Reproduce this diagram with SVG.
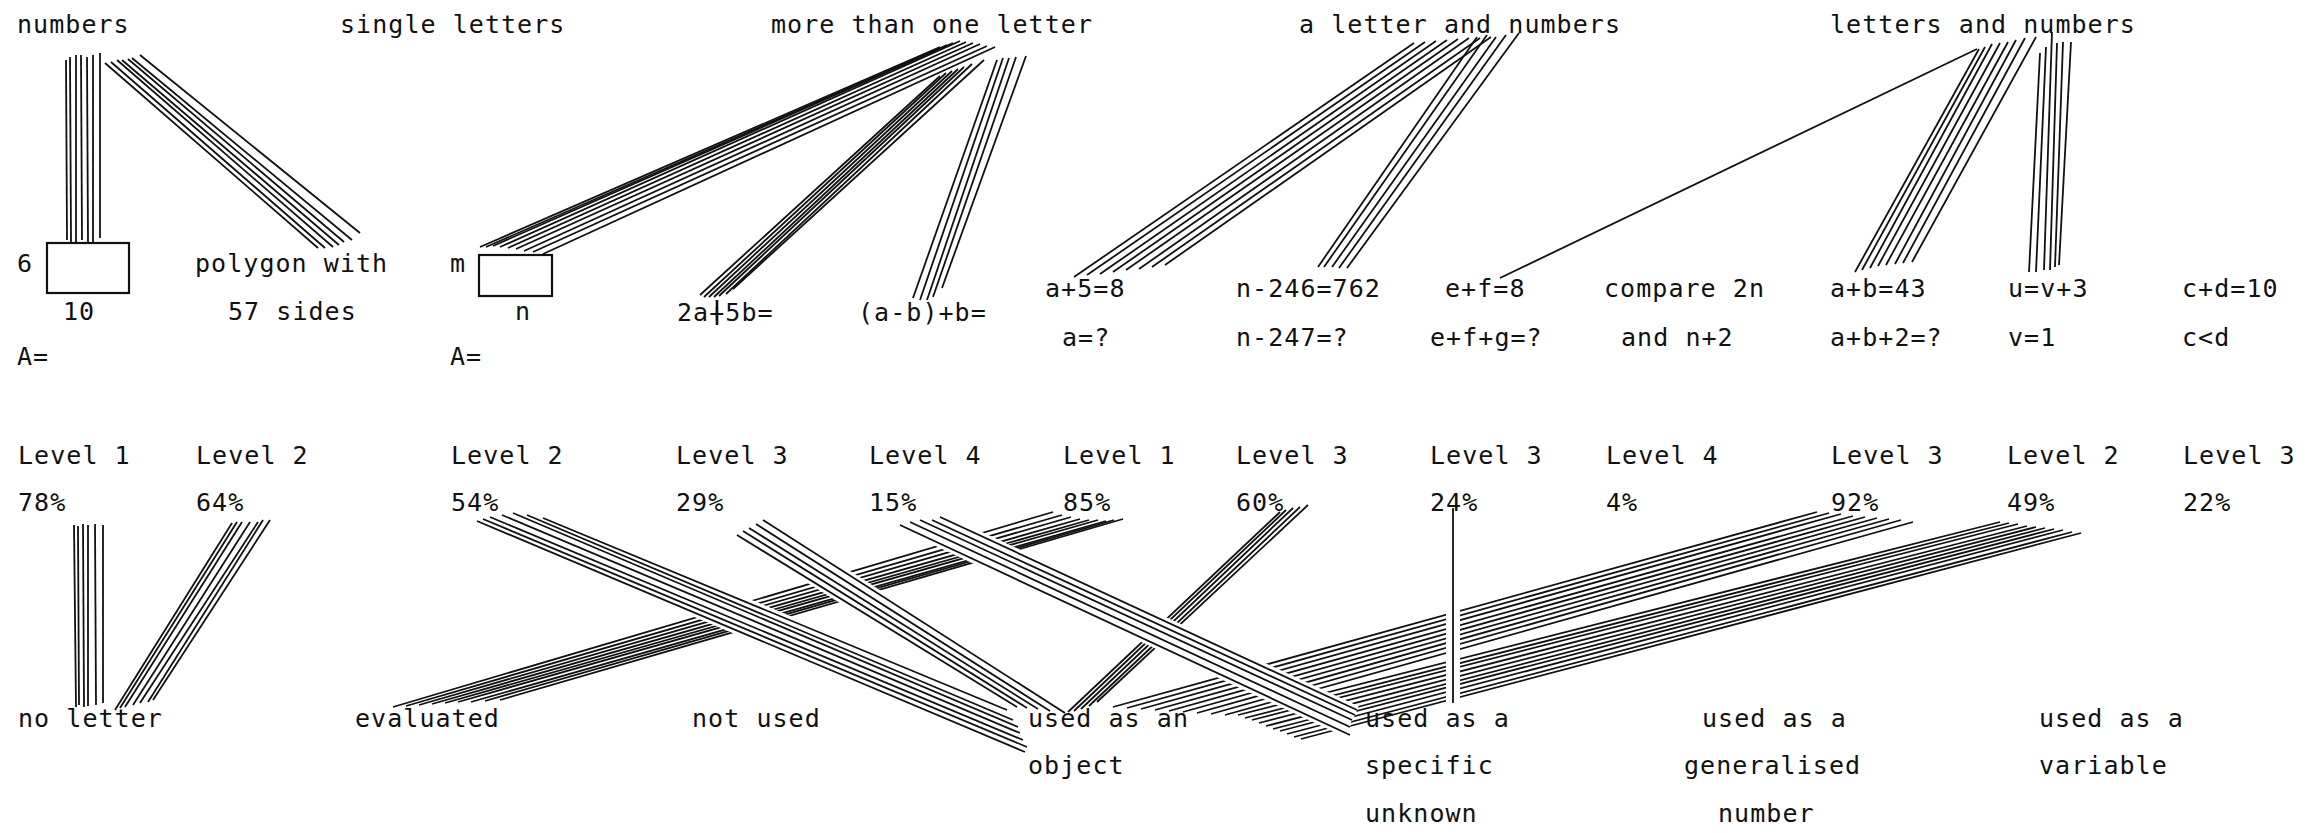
<svg xmlns="http://www.w3.org/2000/svg" width="2313" height="833" viewBox="0 0 2313 833">
<style>
  text { font-family: "DejaVu Sans Mono", "Liberation Mono", monospace; font-size: 25px; letter-spacing: 1.05px; fill: #111; }
  .ln { stroke: #111; stroke-width: 1.8; fill: none; stroke-linecap: butt; }
  .halo { stroke: #fff; stroke-width: 8; fill: none; stroke-linecap: butt; }
  .halo-w { stroke: #fff; stroke-width: 14; fill: none; }
  .box { stroke: #111; stroke-width: 2.2; fill: none; }
</style>
<rect width="2313" height="833" fill="#fff"/>
<g id="connectors">
  <g id="c-numbers-rect" class="ln">
    <line x1="66" y1="60" x2="67" y2="240"/><line x1="70" y1="57" x2="71" y2="242"/><line x1="76" y1="55" x2="76" y2="242"/>
    <line x1="81" y1="55" x2="82" y2="240"/><line x1="87" y1="57" x2="88" y2="242"/><line x1="93" y1="55" x2="93" y2="242"/>
    <line x1="100" y1="53" x2="100" y2="238"/>
  </g>
  <g id="c-numbers-polygon" class="ln">
    <line x1="105" y1="63" x2="318" y2="248"/><line x1="111" y1="62" x2="325" y2="248"/><line x1="117" y1="60" x2="333" y2="247"/>
    <line x1="122" y1="60" x2="339" y2="245"/><line x1="128" y1="59" x2="344" y2="242"/><line x1="132" y1="58" x2="352" y2="240"/>
    <line x1="140" y1="55" x2="360" y2="233"/>
  </g>
  <g id="c-more-rect" class="ln">
    <line x1="940" y1="47" x2="480" y2="247"/><line x1="947" y1="45" x2="486" y2="247"/><line x1="953" y1="43" x2="493" y2="246"/>
    <line x1="960" y1="41" x2="500" y2="247"/><line x1="966" y1="42" x2="508" y2="248"/><line x1="973" y1="43" x2="516" y2="249"/>
    <line x1="980" y1="44" x2="524" y2="251"/><line x1="987" y1="46" x2="533" y2="252"/><line x1="995" y1="47" x2="543" y2="254"/>
  </g>
  <g id="c-more-2a5b" class="ln">
    <line x1="940" y1="76" x2="700" y2="295"/><line x1="946" y1="73" x2="704" y2="297"/><line x1="952" y1="71" x2="709" y2="297"/>
    <line x1="958" y1="69" x2="714" y2="297"/><line x1="964" y1="67" x2="719" y2="296"/><line x1="972" y1="64" x2="726" y2="294"/>
    <line x1="984" y1="60" x2="733" y2="289"/>
    <line x1="717" y1="300" x2="717" y2="325" stroke-width="2.6"/>
  </g>
  <g id="c-more-ab" class="ln">
    <line x1="997" y1="60" x2="913" y2="298"/><line x1="1003" y1="58" x2="920" y2="300"/><line x1="1009" y1="58" x2="927" y2="300"/>
    <line x1="1016" y1="57" x2="933" y2="297"/><line x1="1026" y1="56" x2="942" y2="288"/>
  </g>
  <g id="c-aln-a5" class="ln">
    <line x1="1414" y1="43" x2="1074" y2="277"/><line x1="1425" y1="42" x2="1087" y2="275"/><line x1="1436" y1="41" x2="1100" y2="274"/>
    <line x1="1447" y1="40" x2="1113" y2="272"/><line x1="1458" y1="39" x2="1126" y2="270"/><line x1="1469" y1="38" x2="1139" y2="269"/>
    <line x1="1480" y1="38" x2="1152" y2="267"/><line x1="1491" y1="37" x2="1165" y2="265"/>
  </g>
  <g id="c-aln-n246" class="ln">
    <line x1="1477" y1="37" x2="1318" y2="267"/><line x1="1487" y1="35" x2="1324" y2="267"/><line x1="1496" y1="37" x2="1332" y2="267"/>
    <line x1="1506" y1="35" x2="1339" y2="268"/><line x1="1519" y1="33" x2="1347" y2="268"/>
  </g>
  <g id="c-lan-ef" class="ln">
    <line x1="1977" y1="49" x2="1500" y2="278"/>
  </g>
  <g id="c-lan-ab43" class="ln">
    <line x1="1979" y1="49" x2="1855" y2="272"/><line x1="1985" y1="47" x2="1862" y2="270"/><line x1="1992" y1="44" x2="1870" y2="268"/>
    <line x1="2000" y1="43" x2="1878" y2="266"/><line x1="2008" y1="42" x2="1886" y2="265"/><line x1="2016" y1="40" x2="1895" y2="264"/>
    <line x1="2025" y1="38" x2="1903" y2="263"/><line x1="2036" y1="37" x2="1912" y2="262"/>
  </g>
  <g id="c-lan-uv3" class="ln">
    <line x1="2040" y1="53" x2="2029" y2="272"/><line x1="2046" y1="47" x2="2036" y2="272"/><line x1="2052" y1="32" x2="2044" y2="270"/>
    <line x1="2057" y1="43" x2="2050" y2="270"/><line x1="2063" y1="42" x2="2055" y2="267"/><line x1="2071" y1="42" x2="2059" y2="265"/>
  </g>
  <g id="c-78-noletter" class="ln">
    <line x1="74" y1="525" x2="76" y2="707"/><line x1="78" y1="526" x2="79" y2="705"/><line x1="83" y1="524" x2="84" y2="707"/>
    <line x1="88" y1="525" x2="88" y2="706"/><line x1="95" y1="524" x2="96" y2="705"/><line x1="103" y1="525" x2="103" y2="703"/>
  </g>
  <g id="c-64-noletter" class="ln">
    <line x1="232" y1="523" x2="115" y2="710"/><line x1="237" y1="522" x2="120" y2="708"/><line x1="242" y1="522" x2="125" y2="707"/>
    <line x1="250" y1="522" x2="133" y2="705"/><line x1="258" y1="522" x2="140" y2="703"/><line x1="263" y1="520" x2="148" y2="702"/>
    <line x1="270" y1="520" x2="153" y2="700"/>
  </g>
  <g id="c-85-evaluated" class="ln">
    <line x1="1053" y1="512" x2="393" y2="707"/><line x1="1062" y1="515" x2="406" y2="706"/><line x1="1071" y1="517" x2="419" y2="705"/>
    <line x1="1080" y1="519" x2="432" y2="704"/><line x1="1089" y1="520" x2="445" y2="703"/><line x1="1098" y1="520" x2="458" y2="702"/>
    <line x1="1106" y1="521" x2="471" y2="702"/><line x1="1114" y1="520" x2="485" y2="701"/><line x1="1123" y1="519" x2="500" y2="700"/>
  </g>
  <g id="c-60-object" class="ln">
    <line x1="1280" y1="512" x2="1068" y2="712"/><line x1="1286" y1="510" x2="1074" y2="711"/><line x1="1293" y1="508" x2="1081" y2="709"/>
    <line x1="1300" y1="507" x2="1089" y2="706"/><line x1="1308" y1="505" x2="1097" y2="702"/>
  </g>
  <g id="c-92-object" class="ln">
    <line x1="1817" y1="512" x2="1113" y2="707"/><line x1="1829" y1="513" x2="1127" y2="708"/><line x1="1841" y1="514" x2="1141" y2="709"/>
    <line x1="1853" y1="516" x2="1155" y2="710"/><line x1="1865" y1="517" x2="1169" y2="711"/><line x1="1877" y1="518" x2="1183" y2="712"/>
    <line x1="1889" y1="519" x2="1197" y2="713"/><line x1="1901" y1="520" x2="1211" y2="714"/><line x1="1913" y1="522" x2="1225" y2="715"/>
  </g>
  <g id="c-49-object" class="ln">
    <line x1="2000" y1="522" x2="1238" y2="715"/><line x1="2009" y1="523" x2="1245" y2="718"/><line x1="2018" y1="524" x2="1252" y2="720"/>
    <line x1="2027" y1="526" x2="1259" y2="723"/><line x1="2036" y1="527" x2="1266" y2="726"/><line x1="2045" y1="528" x2="1273" y2="729"/>
    <line x1="2054" y1="529" x2="1280" y2="731"/><line x1="2063" y1="530" x2="1287" y2="734"/><line x1="2072" y1="532" x2="1294" y2="737"/>
    <line x1="2081" y1="533" x2="1301" y2="739"/>
  </g>
  <g id="c-24-specific">
    <line class="halo-w" x1="1453" y1="512" x2="1453" y2="703"/>
    <line class="ln" x1="1453" y1="508" x2="1453" y2="703"/>
  </g>
  <g id="c-54-object">
    <g class="halo">
      <line x1="543" y1="518" x2="1007" y2="710"/><line x1="527" y1="515" x2="1013" y2="720"/><line x1="513" y1="513" x2="1018" y2="727"/>
      <line x1="502" y1="515" x2="1020" y2="733"/><line x1="490" y1="517" x2="1023" y2="740"/><line x1="483" y1="519" x2="1027" y2="747"/>
      <line x1="477" y1="521" x2="1025" y2="752"/>
    </g>
    <g class="ln">
      <line x1="543" y1="518" x2="1007" y2="710"/><line x1="527" y1="515" x2="1013" y2="720"/><line x1="513" y1="513" x2="1018" y2="727"/>
      <line x1="502" y1="515" x2="1020" y2="733"/><line x1="490" y1="517" x2="1023" y2="740"/><line x1="483" y1="519" x2="1027" y2="747"/>
      <line x1="477" y1="521" x2="1025" y2="752"/>
    </g>
  </g>
  <g id="c-29-object">
    <g class="halo">
      <line x1="737" y1="535" x2="1017" y2="707"/><line x1="743" y1="531" x2="1027" y2="708"/><line x1="749" y1="528" x2="1038" y2="709"/>
      <line x1="756" y1="524" x2="1050" y2="711"/><line x1="763" y1="520" x2="1065" y2="713"/>
    </g>
    <g class="ln">
      <line x1="737" y1="535" x2="1017" y2="707"/><line x1="743" y1="531" x2="1027" y2="708"/><line x1="749" y1="528" x2="1038" y2="709"/>
      <line x1="756" y1="524" x2="1050" y2="711"/><line x1="763" y1="520" x2="1065" y2="713"/>
    </g>
  </g>
  <g id="c-15-specific">
    <g class="halo">
      <line x1="900" y1="525" x2="1350" y2="735"/><line x1="910" y1="522" x2="1350" y2="727"/><line x1="920" y1="520" x2="1352" y2="720"/>
      <line x1="932" y1="520" x2="1355" y2="715"/><line x1="940" y1="517" x2="1357" y2="710"/>
    </g>
    <g class="ln">
      <line x1="900" y1="525" x2="1350" y2="735"/><line x1="910" y1="522" x2="1350" y2="727"/><line x1="920" y1="520" x2="1352" y2="720"/>
      <line x1="932" y1="520" x2="1355" y2="715"/><line x1="940" y1="517" x2="1357" y2="710"/>
    </g>
  </g>
</g>
<g id="cat-numbers"><text x="17" y="33">numbers</text></g>
<g id="cat-single-letters"><text x="340" y="33">single letters</text></g>
<g id="cat-more-than-one-letter"><text x="771" y="33">more than one letter</text></g>
<g id="cat-a-letter-and-numbers"><text x="1299" y="33">a letter and numbers</text></g>
<g id="cat-letters-and-numbers"><text x="1830" y="33">letters and numbers</text></g>

<g id="item-rect-numbers"><text x="17" y="272">6</text><rect class="box" x="47" y="243" width="82" height="50"/><text x="63" y="320">10</text><text x="17" y="365">A=</text></g>
<g id="item-polygon"><text x="195" y="272">polygon with</text><text x="228" y="320">57 sides</text></g>
<g id="item-rect-letters"><text x="450" y="272">m</text><rect class="box" x="479" y="255" width="73" height="41"/><text x="515" y="320">n</text><text x="450" y="365">A=</text></g>
<g id="item-2a5b"><text x="677" y="321">2a+5b=</text></g>
<g id="item-ab-b"><text x="858" y="321">(a-b)+b=</text></g>
<g id="item-a5"><text x="1045" y="297">a+5=8</text><text x="1062" y="346">a=?</text></g>
<g id="item-n246"><text x="1236" y="297">n-246=762</text><text x="1236" y="346">n-247=?</text></g>
<g id="item-ef"><text x="1445" y="297">e+f=8</text><text x="1430" y="346">e+f+g=?</text></g>
<g id="item-compare"><text x="1604" y="297">compare 2n</text><text x="1621" y="346">and n+2</text></g>
<g id="item-ab43"><text x="1830" y="297">a+b=43</text><text x="1830" y="346">a+b+2=?</text></g>
<g id="item-uv3"><text x="2008" y="297">u=v+3</text><text x="2008" y="346">v=1</text></g>
<g id="item-cd10"><text x="2182" y="297">c+d=10</text><text x="2182" y="346">c&lt;d</text></g>

<g id="res-78"><text x="18" y="464">Level 1</text><text x="18" y="511">78%</text></g>
<g id="res-64"><text x="196" y="464">Level 2</text><text x="196" y="511">64%</text></g>
<g id="res-54"><text x="451" y="464">Level 2</text><text x="451" y="511">54%</text></g>
<g id="res-29"><text x="676" y="464">Level 3</text><text x="676" y="511">29%</text></g>
<g id="res-15"><text x="869" y="464">Level 4</text><text x="869" y="511">15%</text></g>
<g id="res-85"><text x="1063" y="464">Level 1</text><text x="1063" y="511">85%</text></g>
<g id="res-60"><text x="1236" y="464">Level 3</text><text x="1236" y="511">60%</text></g>
<g id="res-24"><text x="1430" y="464">Level 3</text><text x="1430" y="511">24%</text></g>
<g id="res-4"><text x="1606" y="464">Level 4</text><text x="1606" y="511">4%</text></g>
<g id="res-92"><text x="1831" y="464">Level 3</text><text x="1831" y="511">92%</text></g>
<g id="res-49"><text x="2007" y="464">Level 2</text><text x="2007" y="511">49%</text></g>
<g id="res-22"><text x="2183" y="464">Level 3</text><text x="2183" y="511">22%</text></g>

<g id="int-no-letter"><text x="18" y="727">no letter</text></g>
<g id="int-evaluated"><text x="355" y="727">evaluated</text></g>
<g id="int-not-used"><text x="692" y="727">not used</text></g>
<g id="int-object"><text x="1028" y="727">used as an</text><text x="1028" y="774">object</text></g>
<g id="int-specific-unknown"><text x="1365" y="727">used as a</text><text x="1365" y="774">specific</text><text x="1365" y="822">unknown</text></g>
<g id="int-generalised-number"><text x="1702" y="727">used as a</text><text x="1684" y="774">generalised</text><text x="1718" y="822">number</text></g>
<g id="int-variable"><text x="2039" y="727">used as a</text><text x="2039" y="774">variable</text></g>
</svg>
